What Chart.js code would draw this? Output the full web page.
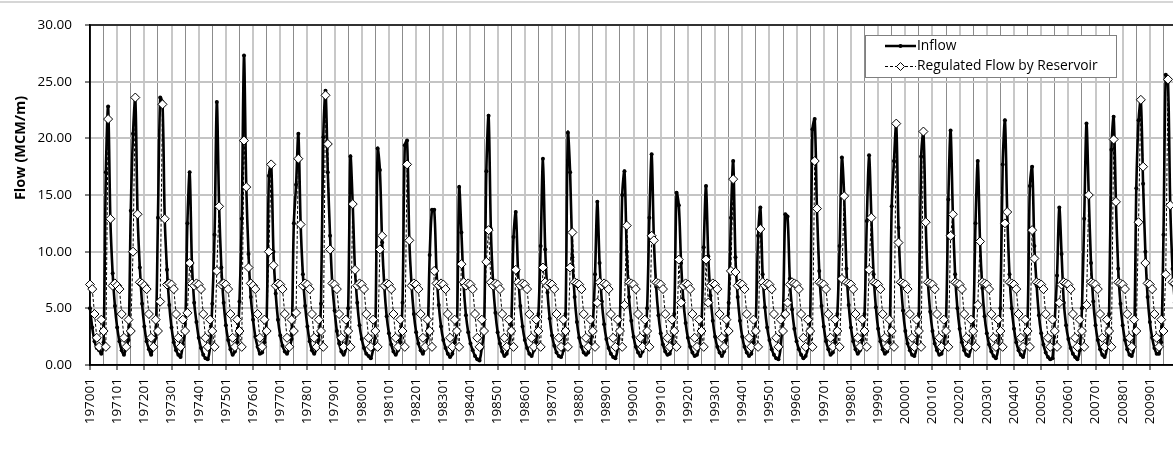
<!DOCTYPE html>
<html>
<head>
<meta charset="utf-8">
<script src="https://cdn.jsdelivr.net/npm/chart.js@4.4.0/dist/chart.umd.min.js"></script>
<style>
  html, body { margin: 0; padding: 0; background: #fff; overflow: hidden; }
  #wrap { position: relative; width: 1199px; height: 451px; }
  #topline { position: absolute; left: 0; top: 1px; width: 1173px; height: 2px; background: #d6d6d6; }
</style>
</head>
<body>
<div id="wrap">
  <canvas id="chart" width="1199" height="451"></canvas>
  <div id="topline"></div>
</div>
<script>
// monthly flow, Jan..Dec, one line per year (1970-2009)
const years = [1970, 1971, 1972, 1973, 1974, 1975, 1976, 1977, 1978, 1979,
               1980, 1981, 1982, 1983, 1984, 1985, 1986, 1987, 1988, 1989,
               1990, 1991, 1992, 1993, 1994, 1995, 1996, 1997, 1998, 1999,
               2000, 2001, 2002, 2003, 2004, 2005, 2006, 2007, 2008, 2009];
const months = ["01", "02", "03", "04", "05", "06", "07", "08", "09", "10", "11", "12"];

const inflow = [
  5.0, 3.3, 2.1, 1.5, 1.3, 1.0, 2.0, 17.0, 22.8, 12.8, 8.1, 5.2,
  3.3, 2.1, 1.3, 0.9, 1.6, 2.2, 13.6, 20.4, 23.6, 13.3, 8.6, 5.4,
  3.4, 2.1, 1.4, 0.9, 1.8, 2.4, 13.0, 23.6, 23.2, 12.9, 8.4, 5.3,
  3.3, 2.0, 1.3, 0.9, 0.7, 1.8, 3.0, 12.5, 17.0, 9.0, 5.5, 3.8,
  2.4, 1.5, 0.9, 0.6, 0.5, 1.6, 5.4, 11.5, 23.2, 14.1, 8.6, 5.5,
  3.5, 2.2, 1.4, 0.9, 1.2, 2.0, 5.6, 12.9, 27.3, 15.8, 9.8, 6.0,
  4.0, 2.5, 1.6, 1.0, 1.1, 2.0, 4.0, 16.7, 17.8, 10.0, 6.3, 4.0,
  2.6, 1.7, 1.2, 1.0, 1.5, 2.3, 12.5, 15.9, 20.4, 12.5, 8.0, 5.2,
  3.4, 2.1, 1.3, 1.0, 1.4, 2.2, 5.4, 20.1, 24.2, 17.0, 11.4, 7.1,
  4.8, 3.0, 1.9, 1.2, 0.9, 1.5, 5.0, 18.4, 14.2, 8.4, 5.5, 3.5,
  2.3, 1.5, 1.0, 0.8, 0.6, 1.4, 3.0, 19.1, 17.2, 10.8, 6.8, 4.3,
  2.8, 1.8, 1.2, 0.9, 1.3, 2.0, 5.5, 19.4, 19.8, 11.0, 7.0, 4.5,
  2.9, 1.9, 1.3, 1.0, 1.6, 2.4, 9.7, 13.7, 13.7, 8.3, 5.3, 3.4,
  2.2, 1.5, 1.0, 0.7, 1.0, 2.0, 3.0, 15.7, 11.7, 7.0, 4.4, 2.9,
  1.9, 1.3, 0.8, 0.5, 0.4, 1.5, 3.0, 17.1, 22.0, 12.0, 7.2, 4.6,
  2.9, 1.9, 1.2, 0.8, 1.0, 1.8, 3.5, 11.3, 13.5, 8.3, 5.2, 3.4,
  2.2, 1.5, 1.0, 0.8, 1.3, 2.0, 4.5, 10.5, 18.2, 10.2, 6.4, 4.1,
  2.6, 1.7, 1.1, 0.8, 0.7, 1.3, 4.5, 20.5, 17.0, 9.5, 6.0, 3.8,
  2.4, 1.6, 1.1, 0.9, 1.1, 1.9, 3.5, 8.0, 14.4, 9.0, 5.6, 3.6,
  2.3, 1.5, 1.0, 0.7, 0.6, 1.5, 4.0, 15.0, 17.1, 10.0, 6.0, 3.9,
  2.5, 1.6, 1.1, 0.8, 1.2, 2.0, 5.0, 13.0, 18.6, 11.0, 6.9, 4.4,
  2.8, 1.8, 1.2, 0.9, 1.0, 1.8, 4.5, 15.2, 14.1, 9.0, 5.7, 3.7,
  2.4, 1.6, 1.1, 0.8, 0.9, 1.6, 3.5, 10.4, 15.8, 9.6, 6.1, 3.9,
  2.5, 1.6, 1.1, 0.8, 1.2, 2.2, 5.5, 13.0, 18.0, 9.5, 6.0, 3.9,
  2.5, 1.6, 1.1, 0.8, 1.0, 2.0, 4.0, 11.4, 13.9, 8.0, 5.1, 3.3,
  2.2, 1.4, 0.9, 0.6, 0.5, 1.6, 4.5, 13.3, 13.1, 7.6, 4.9, 3.2,
  2.1, 1.4, 0.9, 0.6, 0.8, 1.5, 4.0, 20.8, 21.7, 13.7, 8.3, 5.2,
  3.4, 2.1, 1.4, 0.9, 1.1, 2.0, 4.5, 10.5, 18.3, 15.0, 8.5, 5.3,
  3.3, 2.1, 1.4, 1.0, 1.3, 2.2, 4.5, 12.7, 18.5, 13.2, 8.0, 5.1,
  3.2, 2.1, 1.4, 1.0, 1.2, 2.0, 14.0, 18.0, 21.3, 12.1, 7.5, 4.8,
  3.0, 1.9, 1.3, 0.9, 0.8, 1.6, 4.5, 18.4, 20.6, 12.6, 7.3, 4.7,
  3.0, 1.9, 1.3, 0.9, 1.0, 1.8, 4.0, 14.6, 20.7, 13.3, 8.0, 5.0,
  3.2, 2.0, 1.3, 0.9, 0.8, 1.5, 3.5, 12.5, 18.0, 10.9, 6.8, 4.3,
  2.8, 1.8, 1.2, 0.8, 0.6, 1.5, 5.0, 17.7, 21.6, 13.5, 8.0, 5.0,
  3.2, 2.0, 1.3, 0.9, 0.7, 1.6, 4.0, 15.8, 17.5, 10.5, 7.0, 4.4,
  2.8, 1.8, 1.1, 0.7, 0.5, 0.6, 4.0, 7.9, 13.9, 9.8, 5.5, 3.5,
  2.3, 1.5, 1.0, 0.7, 0.5, 1.3, 5.0, 12.9, 21.3, 15.0, 9.0, 5.6,
  3.5, 2.2, 1.4, 0.9, 0.7, 1.5, 4.5, 19.0, 21.9, 14.4, 8.5, 5.4,
  3.5, 2.2, 1.4, 0.9, 0.8, 1.6, 15.6, 21.6, 23.4, 16.0, 10.0, 6.0,
  3.8, 2.4, 1.5, 1.0, 1.0, 2.0, 11.5, 25.6, 25.0, 14.0, 8.5, 5.5
];

const regulated = [
  7.1, 6.7, 4.5, 2.4, 1.6, 4.0, 3.0, 1.6, 21.7, 12.9, 7.0, 7.2,
  7.0, 6.7, 4.5, 2.4, 1.6, 4.0, 3.0, 10.0, 23.6, 13.3, 7.3, 7.2,
  7.0, 6.7, 4.5, 2.4, 1.6, 4.0, 3.0, 5.6, 23.0, 12.9, 7.1, 7.2,
  7.1, 6.7, 4.5, 2.4, 1.6, 4.0, 3.0, 4.6, 9.0, 7.2, 7.0, 7.2,
  7.1, 6.7, 4.5, 2.4, 1.6, 4.0, 3.0, 1.6, 8.3, 14.0, 7.1, 7.2,
  7.1, 6.7, 4.5, 2.4, 1.6, 4.0, 3.0, 1.6, 19.8, 15.7, 8.6, 7.2,
  7.0, 6.7, 4.5, 2.4, 1.6, 4.0, 3.0, 10.0, 17.7, 8.8, 7.0, 7.2,
  7.1, 6.7, 4.5, 2.4, 1.6, 4.0, 3.0, 4.6, 18.2, 12.4, 7.0, 7.2,
  7.1, 6.7, 4.5, 2.4, 1.6, 4.0, 3.0, 1.6, 23.8, 19.5, 10.2, 7.2,
  7.1, 6.7, 4.5, 2.4, 1.6, 4.0, 3.0, 1.6, 14.2, 8.4, 7.0, 7.2,
  7.1, 6.7, 4.5, 2.4, 1.6, 4.0, 3.0, 1.6, 10.2, 11.4, 7.0, 7.2,
  7.1, 6.7, 4.5, 2.4, 1.6, 4.0, 3.0, 1.6, 17.7, 11.0, 7.0, 7.2,
  7.1, 6.7, 4.5, 2.4, 1.6, 4.0, 3.0, 1.6, 8.3, 7.2, 7.0, 7.2,
  7.1, 6.7, 4.5, 2.4, 1.6, 4.0, 3.0, 1.6, 8.9, 7.3, 7.0, 7.2,
  7.1, 6.7, 4.5, 2.4, 1.6, 4.0, 3.0, 9.1, 11.9, 7.3, 7.0, 7.2,
  7.1, 6.7, 4.5, 2.4, 1.6, 4.0, 3.0, 1.6, 8.4, 7.3, 7.0, 7.2,
  7.1, 6.7, 4.5, 2.4, 1.6, 4.0, 3.0, 1.6, 8.6, 7.3, 7.0, 7.2,
  7.1, 6.7, 4.5, 2.4, 1.6, 4.0, 3.0, 1.6, 8.6, 11.7, 7.3, 7.2,
  7.1, 6.7, 4.5, 2.4, 1.6, 4.0, 3.0, 1.6, 5.5, 7.3, 7.0, 7.2,
  7.1, 6.7, 4.5, 2.4, 1.6, 4.0, 3.0, 1.6, 5.3, 12.3, 7.3, 7.2,
  7.1, 6.7, 4.5, 2.4, 1.6, 4.0, 3.0, 1.6, 11.4, 11.0, 7.3, 7.2,
  7.1, 6.7, 4.5, 2.4, 1.6, 4.0, 3.0, 1.6, 9.3, 5.5, 7.0, 7.2,
  7.1, 6.7, 4.5, 2.4, 1.6, 4.0, 3.0, 1.6, 9.3, 5.5, 7.0, 7.2,
  7.1, 6.7, 4.5, 2.4, 1.6, 4.0, 3.0, 8.3, 16.4, 8.2, 7.0, 7.2,
  7.1, 6.7, 4.5, 2.4, 1.6, 4.0, 3.0, 1.6, 12.0, 7.3, 7.0, 7.2,
  7.1, 6.7, 4.5, 2.4, 1.6, 4.0, 3.0, 4.5, 5.5, 7.1, 7.3, 7.2,
  7.1, 6.7, 4.5, 2.4, 1.6, 4.0, 3.0, 1.6, 18.0, 13.8, 7.3, 7.2,
  7.1, 6.7, 4.5, 2.4, 1.6, 4.0, 3.0, 1.6, 7.6, 14.9, 7.3, 7.2,
  7.1, 6.7, 4.5, 2.4, 1.6, 4.0, 3.0, 1.6, 8.4, 13.0, 7.3, 7.2,
  7.1, 6.7, 4.5, 2.4, 1.6, 4.0, 3.0, 1.6, 21.3, 10.8, 7.3, 7.2,
  7.1, 6.7, 4.5, 2.4, 1.6, 4.0, 3.0, 1.6, 20.6, 12.6, 7.3, 7.2,
  7.1, 6.7, 4.5, 2.4, 1.6, 4.0, 3.0, 1.6, 11.4, 13.3, 7.3, 7.2,
  7.1, 6.7, 4.5, 2.4, 1.6, 4.0, 3.0, 1.6, 5.3, 10.9, 7.3, 7.2,
  7.1, 6.7, 4.5, 2.4, 1.6, 4.0, 3.0, 1.6, 12.5, 13.5, 7.3, 7.2,
  7.1, 6.7, 4.5, 2.4, 1.6, 4.0, 3.0, 1.6, 11.9, 9.4, 7.3, 7.2,
  7.1, 6.7, 4.5, 2.4, 1.6, 4.0, 3.0, 1.6, 5.5, 7.1, 7.3, 7.2,
  7.1, 6.7, 4.5, 2.4, 1.6, 4.0, 3.0, 1.6, 5.3, 15.0, 7.3, 7.2,
  7.1, 6.7, 4.5, 2.4, 1.6, 4.0, 3.0, 1.6, 19.9, 14.4, 7.3, 7.2,
  7.1, 6.7, 4.5, 2.4, 1.6, 4.0, 3.0, 12.6, 23.4, 17.5, 9.0, 7.2,
  7.1, 6.7, 4.5, 2.4, 1.6, 4.0, 3.0, 8.0, 25.2, 14.1, 7.3, 7.2
];

const yMin = 0;
const yMax = 30;
const yStep = 5;
const yTitle = "Flow (MCM/m)";
const seriesNames = ["Inflow", "Regulated Flow by Reservoir"];

const labels = [];
for (const y of years) {
  for (const m of months) labels.push(y + m);
}

const FONT = "'Open Sans', 'Noto Sans', sans-serif";

// frame, y title and legend are drawn by hand, excel style
const decorations = {
  id: "decorations",
  beforeDatasetsDraw(chart) {
    const { ctx, chartArea: a } = chart;
    ctx.save();
    ctx.strokeStyle = "#000";
    ctx.lineWidth = 1.5;
    ctx.strokeRect(a.left, a.top, a.right - a.left, a.bottom - a.top);
    ctx.restore();
  },
  afterDraw(chart) {
    const { ctx } = chart;
    ctx.save();
    // y title
    ctx.translate(21, 148);
    ctx.rotate(-Math.PI / 2);
    ctx.font = "bold 14.5px " + FONT;
    ctx.fillStyle = "#000";
    ctx.textAlign = "center";
    ctx.textBaseline = "middle";
    ctx.fillText(yTitle, 0, 0);
    ctx.restore();

    // legend
    ctx.save();
    ctx.fillStyle = "#fff";
    ctx.fillRect(865, 35, 252, 43);
    ctx.strokeStyle = "#7f7f7f";
    ctx.lineWidth = 1;
    ctx.strokeRect(865.5, 35.5, 251, 42);

    ctx.strokeStyle = "#000";
    ctx.lineWidth = 2.5;
    ctx.beginPath();
    ctx.moveTo(885, 46); ctx.lineTo(916, 46);
    ctx.stroke();
    ctx.fillStyle = "#000";
    ctx.beginPath();
    ctx.arc(900.5, 46, 2, 0, Math.PI * 2);
    ctx.fill();

    ctx.lineWidth = 1;
    ctx.setLineDash([3, 2]);
    ctx.beginPath();
    ctx.moveTo(885, 66.5); ctx.lineTo(916, 66.5);
    ctx.stroke();
    ctx.setLineDash([]);
    ctx.fillStyle = "#fff";
    ctx.beginPath();
    ctx.moveTo(900.5, 62.5); ctx.lineTo(904.5, 66.5); ctx.lineTo(900.5, 70.5); ctx.lineTo(896.5, 66.5);
    ctx.closePath();
    ctx.fill();
    ctx.stroke();

    ctx.fillStyle = "#000";
    ctx.font = "13.8px " + FONT;
    ctx.textAlign = "left";
    ctx.textBaseline = "middle";
    ctx.fillText(seriesNames[0], 917, 46);
    ctx.fillText(seriesNames[1], 917, 66.5);
    ctx.restore();
  }
};

new Chart(document.getElementById("chart"), {
  type: "line",
  data: {
    labels,
    datasets: [
      {
        label: seriesNames[0],
        data: inflow,
        borderColor: "#000",
        borderWidth: 2.6,
        pointRadius: 2,
        pointBackgroundColor: "#000",
        pointBorderWidth: 0,
        tension: 0.3,
        order: 2
      },
      {
        label: seriesNames[1],
        data: regulated,
        borderColor: "#000",
        borderWidth: 1,
        borderDash: [3, 2],
        pointStyle: "rectRot",
        pointRadius: 4.5,
        pointBackgroundColor: "#fff",
        pointBorderColor: "#000",
        pointBorderWidth: 1,
        tension: 0,
        order: 1
      }
    ]
  },
  options: {
    responsive: false,
    animation: false,
    devicePixelRatio: 1,
    layout: { padding: { top: 25, right: 4, left: 0, bottom: 0 } },
    plugins: {
      legend: { display: false },
      tooltip: { enabled: false }
    },
    scales: {
      x: {
        offset: false,
        afterFit(scale) { scale.height = 86; },
        border: { display: true, color: "#000", width: 1.5 },
        grid: {
          color: (c) => c.index % 12 === 0 ? "#c8c8c8" : (c.index % 6 === 0 ? "#8c8c8c" : "rgba(0,0,0,0)"),
          lineWidth: (c) => c.index % 12 === 0 ? 2 : (c.index % 6 === 0 ? 1 : 0),
          tickColor: "#000",
          tickWidth: (c) => c.index % 12 === 0 ? 1 : 0,
          tickLength: 5
        },
        ticks: {
          autoSkip: false,
          minRotation: 90,
          maxRotation: 90,
          padding: 8,
          color: "#000",
          font: { family: FONT, size: 13.5 },
          callback: function (v, i) { return i % 12 === 0 ? this.getLabelForValue(v) : ""; }
        }
      },
      y: {
        min: yMin,
        max: yMax,
        afterFit(scale) { scale.width = 90; },
        border: { display: true, color: "#000", width: 1.5 },
        grid: {
          color: "#c4c4c4",
          lineWidth: 2,
          tickColor: "#000",
          tickWidth: 1,
          tickLength: 5
        },
        ticks: {
          stepSize: yStep,
          padding: 13,
          color: "#000",
          font: { family: FONT, size: 13.5 },
          callback: (v) => v.toFixed(2)
        }
      }
    }
  },
  plugins: [decorations]
});
</script>
</body>
</html>
